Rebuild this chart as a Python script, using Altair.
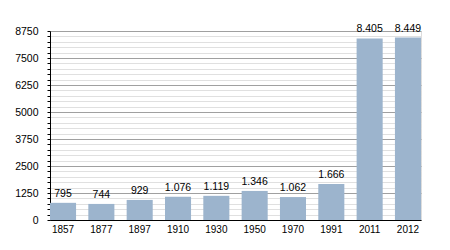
import altair as alt
import pandas as pd

years = ["1857", "1877", "1897", "1910", "1930", "1950", "1970", "1991", "2011", "2012"]
population = [795, 744, 929, 1076, 1119, 1346, 1062, 1666, 8405, 8449]
labels = [f"{v:,}".replace(",", ".") for v in population]
y_ticks = list(range(0, 8751, 250))

df = pd.DataFrame({"year": years, "pop": population, "label": labels})

FONT = "Liberation Sans"

x = alt.X("year:N", sort=years, title=None,
          scale=alt.Scale(paddingInner=0.32, paddingOuter=0.0),
          axis=alt.Axis(labelAngle=0, tickSize=0, labelPadding=4, domainColor="#000000",
                        labelColor="#000000", labelFontSize=10, labelFont=FONT, grid=False))
y = alt.Y("pop:Q", title=None,
          scale=alt.Scale(domain=[0, 8750], nice=False, zero=True),
          axis=alt.Axis(values=y_ticks,
                        labelExpr="datum.value % 1250 === 0 ? datum.label : ''",
                        format="d",
                        gridColor={"condition": {"test": "datum.value % 1250 === 0", "value": "#a0a0a0"}, "value": "#e0e0e0"},
                        tickSize=3, tickColor="#000000", domainColor="#000000",
                        labelPadding=9, labelColor="#000000", labelFontSize=10.5, labelFont=FONT))

base = alt.Chart(df).encode(x=x, y=y)
bars = base.mark_bar(color="#9cb4cd")
text = base.mark_text(dy=-9, fontSize=10.5, font=FONT, color="#000000").encode(text="label:N")

chart = alt.layer(bars, text).properties(
    width=371, height=189,
    autosize=alt.AutoSizeParams(type="none"),
    padding={"left": 50, "top": 31, "right": 29, "bottom": 30},
).configure_view(stroke=None).configure(background="#ffffff")

chart.save("out.html", embed_options={"renderer": "svg", "actions": False})
